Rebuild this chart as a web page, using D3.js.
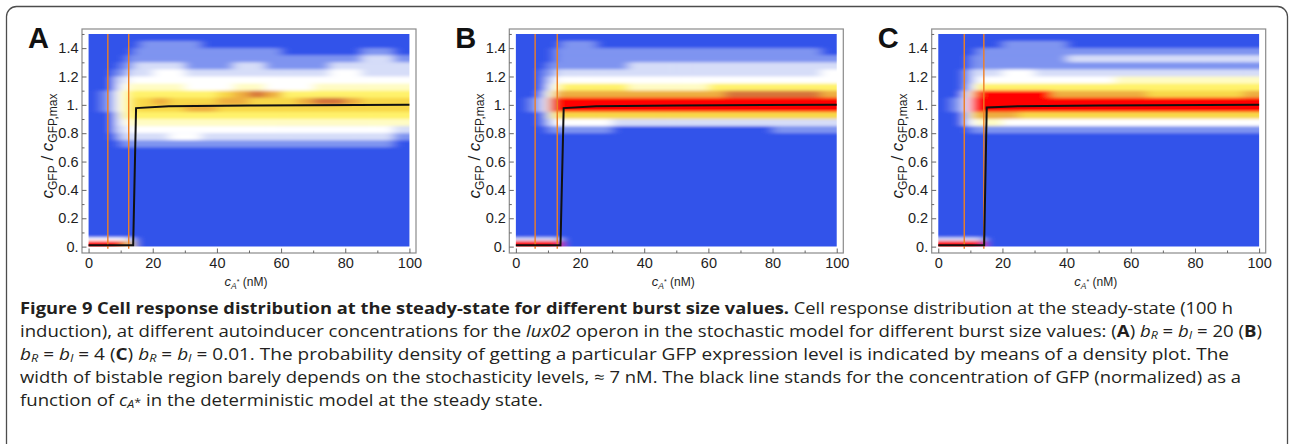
<!DOCTYPE html>
<html>
<head>
<meta charset="utf-8">
<script src="https://cdn.jsdelivr.net/npm/d3@7"></script>
<style>
  body { margin: 0; background: #fff; }
  svg { display: block; }
</style>
</head>
<body>
<svg id="fig" width="1290" height="444"></svg>
<script>
// ---- data ----
const panelLabels = ["A", "B", "C"];

// bin edges of the density grid (c_A* in nM, response c_GFP/c_GFP,max)
const xEdges = [0, 4, 8, 10, 12, 14, 16, 20, 25, 30, 35, 40, 45, 50, 55, 60, 65, 70, 75, 80, 85, 90, 95, 100];
const yEdges = [0, 0.04, 0.065, 0.7, 0.75, 0.8, 0.85, 0.9, 0.95, 1.0, 1.05, 1.1, 1.15, 1.2, 1.25, 1.3, 1.35, 1.4, 1.45, 1.5];

// density level per cell (0 = none ... 8 = high, 9 = clipped), rows from top (1.45-1.5) to bottom (0-0.04)
const densityA = [
  "00000000000000000000000",
  "00000011110000000000000",
  "00000111111111100000110",
  "00001111111111111111221",
  "00011222211122111122222",
  "00112223322222222233222",
  "00223333333333333333333",
  "00234444433344333444444",
  "01345555555678755555555",
  "01345667666776667887666",
  "01345666677666666666666",
  "00245555555555555555555",
  "00234444444444444444444",
  "00223333333333333333332",
  "00122222332222222222221",
  "00011111111111111111110",
  "00000000000000000000000",
  "33332000000000000000000",
  "99985000000000000000000"
];
const densityB = [
  "00000000000000000000000",
  "00000111000000000000000",
  "00001111111111111111110",
  "00001111111111111111111",
  "00011111112222222222222",
  "00112222222222222222223",
  "00123333333333333333333",
  "00134555554444455555555",
  "00247777777777778888887",
  "01389999999999999999999",
  "01389999999999999999999",
  "00146666666666666666666",
  "00123333322222222222222",
  "00011111100000000001111",
  "00000000000000000000000",
  "00000000000000000000000",
  "00000000000000000000000",
  "22222000000000000000000",
  "99999000000000000000000"
];
const densityC = [
  "00000000000000000000000",
  "00000001111000000000000",
  "00001111111111111111111",
  "00011111111222222222222",
  "00011111111111111111111",
  "00122223322222222222222",
  "00123333333333444444444",
  "00135555555555555555555",
  "00379999997777776666667",
  "01399999999999999999999",
  "01399999999999999999999",
  "00267777666666666666666",
  "00234443333333333333333",
  "00011111111111111111111",
  "00000000000000000000000",
  "00000000000000000000000",
  "00000000000000000000000",
  "22222000000000000000000",
  "99999000000000000000000"
];

// deterministic steady state (black line)
const detXA = [0, 13.9, 14.8, 25, 50, 100];
const detYA = [0.01, 0.01, 0.977, 0.99, 0.996, 1.0];
const detXB = [0, 13.9, 14.9, 25, 50, 100];
const detYB = [0.01, 0.01, 0.977, 0.99, 0.996, 1.0];
const detXC = [0, 14.3, 15.1, 25, 50, 100];
const detYC = [0.01, 0.01, 0.981, 0.99, 0.996, 1.0];

// bistable region borders (orange lines)
const bistA = [6.0, 12.5];
const bistB = [6.0, 12.9];
const bistC = [8.1, 14.2];

const xTicks = [0, 20, 40, 60, 80, 100];
const xMinor = [10, 30, 50, 70, 90];
const yTicks = [0, 0.2, 0.4, 0.6, 0.8, 1.0, 1.2, 1.4];
const yMinor = [0.1, 0.3, 0.5, 0.7, 0.9, 1.1, 1.3, 1.5];

// ---- styles / layout ----
const levelColors = ["#3153ea", "#7f94f0", "#d6ddf8", "#ffffff", "#fffcc4", "#fff26a",
                     "#f8d84a", "#eeae40", "#d6743a", "#ff0000"];
const colorOf = d3.scaleOrdinal().domain(d3.range(10)).range(levelColors);
const frameLefts = [82, 509.3, 931.7];
const frameW = 334, frameTop = 29, frameBottom = 253;
const tickFont = "Liberation Sans, Arial, sans-serif";

const panels = [
  { label: panelLabels[0], dens: densityA, detX: detXA, detY: detYA, bist: bistA },
  { label: panelLabels[1], dens: densityB, detX: detXB, detY: detYB, bist: bistB },
  { label: panelLabels[2], dens: densityC, detX: detXC, detY: detYC, bist: bistC }
];

const svg = d3.select("#fig");

// outer rounded box
svg.append("rect")
  .attr("x", 6.5).attr("y", 6.5)
  .attr("width", 1281).attr("height", 480)
  .attr("rx", 10)
  .attr("fill", "none")
  .attr("stroke", "#4d4d4d")
  .attr("stroke-width", 1.3);

const defs = svg.append("defs");
defs.append("filter")
  .attr("id", "soft")
  .attr("x", "-5%").attr("y", "-5%").attr("width", "110%").attr("height", "110%")
  .append("feGaussianBlur")
  .attr("stdDeviation", "5.5 1.8");

const nRows = yEdges.length - 1;
const nCols = xEdges.length - 1;

panels.forEach((p, i) => {
  const fx0 = frameLefts[i];
  const x = d3.scaleLinear().domain([-2.05, 102.05]).range([fx0, fx0 + frameW]);
  const y = d3.scaleLinear().domain([-0.045, 1.535]).range([frameBottom, frameTop]);
  const g = svg.append("g");

  // density cells
  const cells = [];
  p.dens.forEach((row, r) => {
    row.split("").forEach((ch, c) => {
      cells.push({
        x0: c === 0 ? -6 : xEdges[c],
        x1: c === nCols - 1 ? 106 : xEdges[c + 1],
        y0: r === nRows - 1 ? -0.1 : yEdges[nRows - 1 - r],
        y1: r === 0 ? 1.6 : yEdges[nRows - r],
        v: +ch
      });
    });
  });

  defs.append("clipPath").attr("id", "clip" + i)
    .append("rect")
    .attr("x", x(0)).attr("y", y(1.5))
    .attr("width", x(100) - x(0)).attr("height", y(0) - y(1.5));

  const dg = g.append("g").attr("clip-path", `url(#clip${i})`)
    .append("g").attr("filter", "url(#soft)");
  dg.append("rect")
    .attr("x", x(-6)).attr("y", y(1.6))
    .attr("width", x(106) - x(-6)).attr("height", y(-0.1) - y(1.6))
    .attr("fill", levelColors[0]);
  dg.selectAll("rect.cell")
    .data(cells)
    .join("rect")
    .attr("class", "cell")
    .attr("x", d => x(d.x0))
    .attr("y", d => y(d.y1))
    .attr("width", d => x(d.x1) - x(d.x0) + 0.6)
    .attr("height", d => y(d.y0) - y(d.y1) + 0.6)
    .attr("fill", d => colorOf(d.v));

  // bistable borders
  g.selectAll("line.bist")
    .data(p.bist)
    .join("line")
    .attr("class", "bist")
    .attr("x1", d => x(d)).attr("x2", d => x(d))
    .attr("y1", y(1.5)).attr("y2", y(-0.015))
    .attr("stroke", "#ee7f24")
    .attr("stroke-width", 1.4);

  // deterministic line
  g.append("path")
    .datum(d3.zip(p.detX, p.detY))
    .attr("d", d3.line().x(d => x(d[0])).y(d => y(d[1])))
    .attr("fill", "none")
    .attr("stroke", "#111")
    .attr("stroke-width", 2);

  // frame
  g.append("rect")
    .attr("x", fx0).attr("y", frameTop)
    .attr("width", frameW).attr("height", frameBottom - frameTop)
    .attr("fill", "none")
    .attr("stroke", "#8a8a8a")
    .attr("stroke-width", 1.2);

  const yFmt = d => d === 0 ? "0." : d === 1 ? "1." : d3.format(".1f")(d);
  const styleAxis = a => {
    a.select(".domain").remove();
    a.selectAll("line").attr("stroke", "#666");
    a.selectAll("text")
      .attr("font-family", tickFont)
      .attr("font-size", 14.5)
      .attr("fill", "#1e1e1e");
  };

  g.append("g")
    .attr("transform", `translate(${fx0},0)`)
    .call(d3.axisLeft(y).tickValues(yTicks).tickSize(-4.5).tickPadding(3.5).tickFormat(yFmt))
    .call(styleAxis);
  g.append("g")
    .attr("transform", `translate(${fx0},0)`)
    .call(d3.axisLeft(y).tickValues(yMinor).tickSize(-2.5).tickFormat(""))
    .call(styleAxis);
  g.append("g")
    .attr("transform", `translate(0,${frameBottom})`)
    .call(d3.axisBottom(x).tickValues(xTicks).tickSize(-4.5).tickPadding(5).tickFormat(d3.format("d")))
    .call(styleAxis);
  g.append("g")
    .attr("transform", `translate(0,${frameBottom})`)
    .call(d3.axisBottom(x).tickValues(xMinor).tickSize(-2.5).tickFormat(""))
    .call(styleAxis);

  // panel letter
  g.append("text")
    .attr("x", fx0 - 54).attr("y", 48)
    .attr("font-family", tickFont)
    .attr("font-weight", "bold")
    .attr("font-size", 29)
    .attr("fill", "#111")
    .text(p.label);

  // y axis title
  const yt = g.append("text")
    .attr("transform", `translate(${fx0 - 29},146) rotate(-90)`)
    .attr("text-anchor", "middle")
    .attr("font-family", tickFont)
    .attr("font-size", 17)
    .attr("fill", "#1e1e1e");
  yt.append("tspan").attr("font-style", "italic").text("c");
  yt.append("tspan").attr("font-size", 12).attr("dy", 4).text("GFP");
  yt.append("tspan").attr("dy", -4).text(" / ");
  yt.append("tspan").attr("font-style", "italic").text("c");
  yt.append("tspan").attr("font-size", 12).attr("dy", 4).text("GFP,max");

  // x axis title
  const xt = g.append("text")
    .attr("x", x(50) - 3).attr("y", 286)
    .attr("text-anchor", "middle")
    .attr("font-family", tickFont)
    .attr("font-size", 12)
    .attr("fill", "#1e1e1e");
  xt.append("tspan").attr("font-style", "italic").attr("font-size", 13).text("c");
  xt.append("tspan").attr("font-style", "italic").attr("font-size", 8.5).attr("dy", 2.5).text("A");
  xt.append("tspan").attr("font-size", 7).attr("dy", -5).text("*");
  xt.append("tspan").attr("dy", 2.5).text(" (nM)");
});

// ---- caption ----
const captionLines = [
  [["Figure 9 Cell response distribution at the steady-state for different burst size values.", "b"],
   [" Cell response distribution at the steady-state (100 h", ""]],
  [["induction), at different autoinducer concentrations for the ", ""], ["lux02", "i"],
   [" operon in the stochastic model for different burst size values: (", ""], ["A", "b"], [") ", ""],
   ["b", "i"], ["R", "sub"], [" = ", ""], ["b", "i"], ["I", "sub"], [" = 20 (", ""], ["B", "b"], [")", ""]],
  [["b", "i"], ["R", "sub"], [" = ", ""], ["b", "i"], ["I", "sub"], [" = 4 (", ""], ["C", "b"], [") ", ""],
   ["b", "i"], ["R", "sub"], [" = ", ""], ["b", "i"], ["I", "sub"],
   [" = 0.01. The probability density of getting a particular GFP expression level is indicated by means of a density plot. The", ""]],
  [["width of bistable region barely depends on the stochasticity levels, \u2248 7 nM. The black line stands for the concentration of GFP (normalized) as a", ""]],
  [["function of ", ""], ["c", "i"], ["A", "sub"], ["*", "subsup"], [" in the deterministic model at the steady state.", ""]]
];
// full-width lines are stretched to their measured widths; the last line gets the same stretch
const captionWidths = [1213, 1242, 1209, 1221, null];
const captionBase = [314, 337, 360, 383, 406];

const capTexts = captionLines.map((segs, li) => {
  const t = svg.append("text")
    .attr("x", 20).attr("y", captionBase[li])
    .attr("font-family", "Open Sans, sans-serif")
    .attr("font-size", 16.5)
    .attr("fill", "#231f20");
  let off = 0;
  segs.forEach(([s, st]) => {
    const target = st === "sub" ? 2 : 0;
    const ts = t.append("tspan").text(s);
    if (target !== off) { ts.attr("dy", target - off); off = target; }
    if (st === "b") ts.attr("font-weight", "bold");
    if (st === "i" || st === "sub") ts.attr("font-style", "italic");
    if (st === "sub" || st === "subsup") ts.attr("font-size", 11);
  });
  return t;
});
const natural = capTexts.map(t => t.node().getComputedTextLength());
const stretch = d3.mean(captionWidths.filter(w => w), (w, k) => w / natural[k]);
capTexts.forEach((t, li) => {
  const w = captionWidths[li] || natural[li] * stretch;
  t.attr("textLength", w).attr("lengthAdjust", "spacingAndGlyphs");
});
</script>
</body>
</html>
